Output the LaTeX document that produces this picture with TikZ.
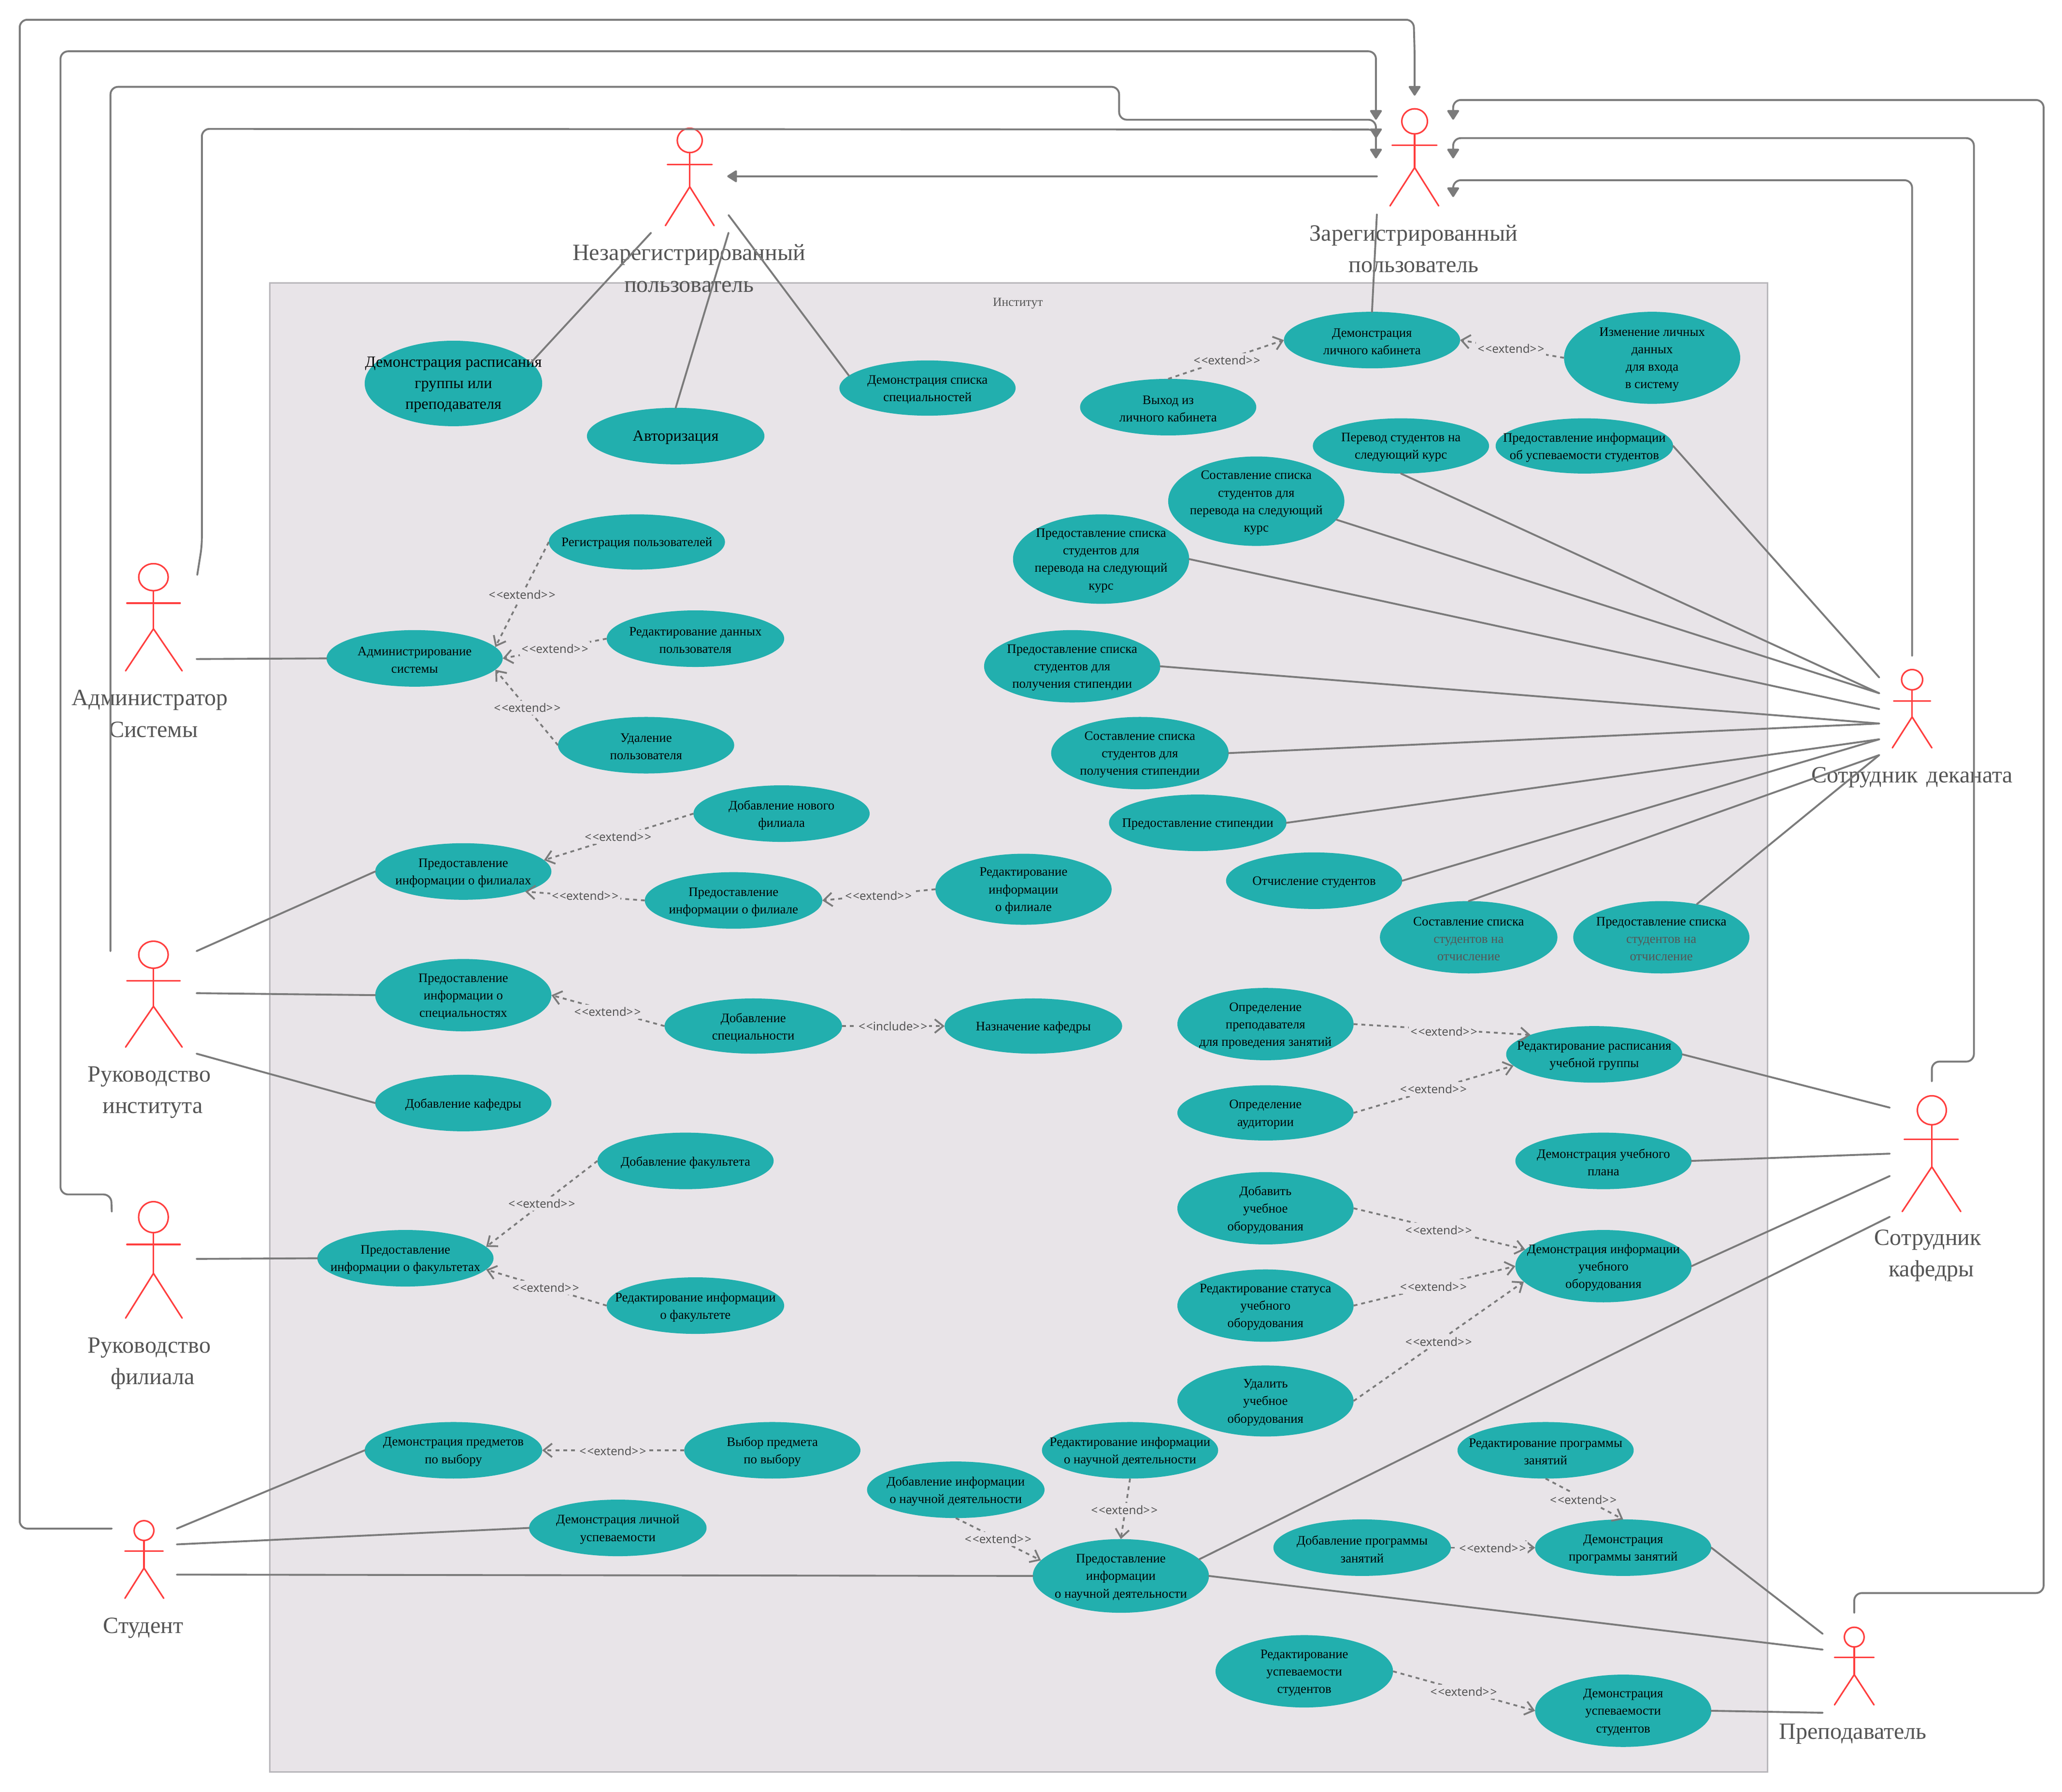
\documentclass[tikz,border=0pt]{standalone}
\usepackage{fontspec}
\setmainfont{Liberation Serif}
\newfontfamily\relfont{Noto Sans}
\usetikzlibrary{shapes.geometric,arrows.meta}
\definecolor{boxfill}{HTML}{E8E4E8}
\definecolor{boxedge}{HTML}{B8B6BA}
\definecolor{ucfill}{HTML}{22AFAE}
\definecolor{actorred}{HTML}{FF3E3E}
\definecolor{linegray}{HTML}{7B7B7B}
\definecolor{labelgray}{HTML}{555555}
\tikzset{
  ucshape/.style={shape=ellipse,fill=ucfill,inner sep=0pt,outer sep=0pt},
  uctext/.style={align=center,inner sep=0pt,text=black,yshift=-0.9pt,font=\fontsize{7.62}{10.3}\selectfont},
  ucbig/.style={align=center,inner sep=0pt,text=black,yshift=-0.8pt,font=\fontsize{9.2}{12.4}\selectfont},
  actorline/.style={draw=actorred,line width=0.9pt,line cap=round},
  actorhead/.style={shape=ellipse,draw=actorred,line width=0.9pt,inner sep=0pt,outer sep=0pt},
  actorlabel/.style={align=center,inner sep=0pt,text=labelgray,font=\fontsize{13.7}{18.6}\selectfont},
  assoc/.style={draw=linegray,line width=1.1pt,line cap=round},
  flow/.style={draw=linegray,line width=1.1pt,rounded corners=4.5pt,line cap=round,-{Triangle[length=6.2pt,width=7.6pt,round]}},
  dep/.style={draw=linegray,line width=1.05pt,dash pattern=on 2.3pt off 2.3pt,-{Straight Barb[length=5pt,width=8pt]}},
  deplabel/.style={fill=boxfill,inner xsep=1pt,inner ysep=1.5pt,text=labelgray,font=\relfont\fontsize{6.9}{8}\selectfont}
}
% ellipse: name, x1, x2, y1, y2, text
\newcommand{\uc}[7][uctext]{%
  \node[ucshape,minimum width={(#4-#3)*0.77446pt},minimum height={(#6-#5)*0.77446pt}] (#2) at ({(#3+#4)/2+0.3},{(#5+#6)/2}) {};
  \node[#1] (#2T) at (#2) {#7};
}
% actor: name, cx, headL, headR, headTop, headBot, armY, armL, armR, hipY, feetY, footL, footR
\newcommand{\actorfig}[9]{%
  \node[actorhead,minimum width={(#4-#3)*0.77446pt},minimum height={(#6-#5)*0.77446pt}] (#1) at (#2,{(#5+#6)/2}) {};
  \def\actn{#1}\def\actx{#2}\def\acta{#7}\def\actal{#8}\def\actar{#9}\actorfigb}
\newcommand{\actorfigb}[4]{%
  \coordinate (\actn hip) at (\actx,#1);
  \draw[actorline] (\actn.south) -- (\actn hip);
  \draw[actorline] (\actal,\acta) -- (\actar,\acta);
  \draw[actorline] (#3,#2) -- (\actn hip) -- (#4,#2);
}
% dependency: from, to, label name, x, y, text
\newcommand{\rel}[6][extend]{%
  \draw[dep] (#2) -- (#3);
  \node[deplabel] (#4) at (#5,#6) {{<}\kern0.6pt{<}#1{>}\kern0.6pt{>}};
}
\begin{document}
\begin{tikzpicture}[x=0.027219cm,y=-0.027219cm]
\useasboundingbox (0,0) rectangle (1568,1361.9);
\node[draw=boxedge,fill=boxfill,line width=0.9pt,minimum width={1139*0.77446pt},minimum height={1132*0.77446pt},inner sep=0pt,outer sep=0pt] (inst) at (774.5,781) {};
\node[inner sep=0pt,text=labelgray,font=\fontsize{7.3}{9}\selectfont] (instT) at (774,230.5) {Институт};

% use cases
\uc[ucbig]{drs}{277}{412}{259}{324}{Демонстрация расписания\\группы или\\преподавателя}
\uc[ucbig]{avt}{446}{581}{310}{353}{Авторизация}
\uc{dsl}{638}{772}{274}{316}{Демонстрация списка\\специальностей}
\uc{reg}{417}{551}{391}{433}{Регистрация пользователей}
\uc{adm}{248}{382}{479}{522}{Администрирование\\системы}
\uc{redd}{461}{596}{464}{507}{Редактирование данных\\пользователя}
\uc{udal}{424}{558}{545}{588}{Удаление\\пользователя}
\uc{dobf}{527}{661}{597}{640}{Добавление нового\\филиала}
\uc{predf}{285}{419}{641}{684}{Предоставление\\информации о филиалах}
\uc{predfl}{490}{625}{663}{706}{Предоставление\\информации о филиале}
\uc{redfl}{711}{845}{649}{703}{Редактирование\\информации\\о филиале}
\uc{psp}{285}{419}{729}{784}{Предоставление\\информации о\\специальностях}
\uc{dsp}{505}{640}{759}{801}{Добавление\\специальности}
\uc{nk}{718}{853}{759}{801}{Назначение кафедры}
\uc{dk}{285}{419}{817}{860}{Добавление кафедры}
\uc{dfk}{454}{588}{861}{904}{Добавление факультета}
\uc{pfk}{241}{375}{935}{978}{Предоставление\\информации о факультетах}
\uc{rfk}{461}{596}{971}{1014}{Редактирование информации\\о факультете}
\uc{dpv}{277}{412}{1081}{1124}{Демонстрация предметов\\по выбору}
\uc{vyb}{520}{654}{1081}{1124}{Выбор предмета\\по выбору}
\uc{dul}{402}{537}{1140}{1183}{Демонстрация личной\\успеваемости}
\uc{dind}{659}{794}{1111}{1154}{Добавление информации\\о научной деятельности}
\uc{rind}{792}{926}{1081}{1124}{Редактирование информации\\о научной деятельности}
\uc{pnd}{785}{919}{1170}{1226}{Предоставление\\информации\\о научной деятельности}
\uc{rus}{924}{1059}{1243}{1298}{Редактирование\\успеваемости\\студентов}
\uc{dus}{1167}{1301}{1273}{1328}{Демонстрация\\успеваемости\\студентов}
\uc{dpz}{968}{1103}{1155}{1198}{Добавление программы\\занятий}
\uc{dmz}{1167}{1301}{1155}{1198}{Демонстрация\\программы занятий}
\uc{rpz}{1108}{1242}{1081}{1124}{Редактирование программы\\занятий}
\uc{udl}{895}{1029}{1038}{1092}{Удалить\\учебное\\оборудования}
\uc{rst}{895}{1029}{965}{1020}{Редактирование статуса\\учебного\\оборудования}
\uc{dbv}{895}{1029}{891}{946}{Добавить\\учебное\\оборудования}
\uc{dio}{1152}{1286}{935}{990}{Демонстрация информации\\учебного\\оборудования}
\uc{duo}{1152}{1286}{861}{904}{Демонстрация учебного\\плана}
\uc{oau}{895}{1029}{825}{867}{Определение\\аудитории}
\uc{opp}{895}{1029}{751}{806}{Определение\\преподавателя\\для проведения занятий}
\uc{rr}{1145}{1279}{780}{823}{Редактирование расписания\\учебной группы}
\uc{sso}{1049}{1184}{685}{740}{Составление списка\\{\color{labelgray}студентов на}\\{\color{labelgray}отчисление}}
\uc{pso}{1196}{1330}{685}{740}{Предоставление списка\\{\color{labelgray}студентов на}\\{\color{labelgray}отчисление}}
\uc{och}{932}{1066}{648}{691}{Отчисление студентов}
\uc{pst}{843}{978}{604}{647}{Предоставление стипендии}
\uc{ss3}{799}{934}{545}{600}{Составление списка\\студентов для\\получения стипендии}
\uc{ps3}{748}{882}{479}{534}{Предоставление списка\\студентов для\\получения стипендии}
\uc{ps2}{770}{904}{391}{459}{Предоставление списка\\студентов для\\перевода на следующий\\курс}
\uc{ss}{888}{1022}{347}{415}{Составление списка\\студентов для\\перевода на следующий\\курс}
\uc{ps}{998}{1132}{318}{360}{Перевод студентов на\\следующий курс}
\uc{pi}{1137}{1272}{318}{360}{Предоставление информации\\об успеваемости студентов}
\uc{dlk}{976}{1110}{237}{280}{Демонстрация\\личного кабинета}
\uc{vyh}{821}{955}{288}{331}{Выход из\\личного кабинета}
\uc{izm}{1189}{1323}{237}{307}{Изменение личных\\данных\\для входа\\в систему}

% actor figures
\actorfig{nez}{524.5}{515}{534}{97.5}{116}{125}{507.5}{541.5}{142}{171.5}{506}{543}
\actorfig{zar}{1075.7}{1066}{1085.5}{82.7}{101.8}{110.5}{1058.6}{1092.6}{127.4}{156.5}{1057}{1094}
\actorfig{adn}{116.7}{105.6}{128}{428.5}{449}{458.5}{96.5}{137}{478}{510}{95.5}{138.5}
\actorfig{ruk}{116.7}{105.6}{128}{715.5}{736}{745.5}{96.5}{137}{765}{796}{95.5}{138.5}
\actorfig{ruf}{116.7}{105.5}{128}{913.5}{937}{946}{96.5}{137}{968}{1002}{95.5}{138.5}
\actorfig{stu}{109.5}{102}{117}{1156}{1171}{1179}{95}{124}{1192}{1215}{95}{124.5}
\actorfig{pre}{1410}{1402.5}{1417.5}{1237}{1252}{1260}{1395}{1425}{1273}{1296}{1395}{1425}
\actorfig{kaf}{1469}{1458}{1480}{833}{855}{866}{1448}{1489}{887}{921}{1446.5}{1491}
\actorfig{dek}{1454}{1446}{1462}{509}{524.4}{533}{1440}{1468}{545}{568.5}{1439}{1469}

% actor labels
\node[actorlabel] (nezL) at (524,204) {Незарегистрированный\\пользователь};
\node[actorlabel] (zarL) at (1075,189) {Зарегистрированный\\пользователь};
\node[actorlabel] (adnL) at (114,542.5) {Администратор\\\hspace*{4pt}Системы};
\node[actorlabel] (rukL) at (113.5,830.5) {Руководство\\\hspace*{4pt}института};
\node[actorlabel] (rufL) at (113.5,1036.5) {Руководство\\\hspace*{4pt}филиала};
\node[actorlabel] (stuL) at (109,1237.5) {Студент};
\node[actorlabel] (preL) at (1409,1318) {Преподаватель};
\node[actorlabel] (kafL) at (1466,954.5) {Сотрудник\\\hspace*{4pt}кафедры};
\node[actorlabel] (dekL) at (1454,591) {Сотрудник\hspace{1.5pt} деканата};

% free connector ends
\coordinate (stuOut) at (85,1162);
\coordinate (rufOut) at (85,921);
\coordinate (rukOut) at (84,723);
\coordinate (adnOut) at (150,437);
\coordinate (zarTop) at (1075.7,72.7);
\coordinate (zarL1) at (1046.3,91);
\coordinate (zarL2) at (1046.3,105);
\coordinate (zarL3) at (1046.3,120.4);
\coordinate (zarR1) at (1105,91);
\coordinate (zarR2) at (1105,120.4);
\coordinate (zarR3) at (1105,149.8);
\coordinate (preOut) at (1410,1226);
\coordinate (kafOut) at (1469,822);
\coordinate (dekOut) at (1454,498.5);
\coordinate (zarOut) at (1047,134);
\coordinate (nezIn) at (553,134);
\coordinate (zarDown) at (1047,163);
\coordinate (nezA) at (495,177);
\coordinate (nezB) at (554,177);
\coordinate (nezC) at (554,163.5);
\coordinate (adnR) at (149.5,501);
\coordinate (rukA) at (149.5,723);
\coordinate (rukB) at (149.5,755);
\coordinate (rukC) at (149.5,801);
\coordinate (rufR) at (149.5,957);
\coordinate (stuA) at (134.5,1162);
\coordinate (stuB) at (134.5,1174);
\coordinate (stuC) at (134.5,1197);
\coordinate (kafA) at (1437,842);
\coordinate (kafB) at (1437,877);
\coordinate (kafC) at (1437,894);
\coordinate (kafD) at (1437,925);
\coordinate (preA) at (1386,1242);
\coordinate (preB) at (1386,1254);
\coordinate (preC) at (1386,1302);
\coordinate (dekA) at (1429,515);
\coordinate (dekB) at (1429,527);
\coordinate (dekC) at (1429,539);
\coordinate (dekD) at (1429,550);
\coordinate (dekE) at (1429,562);
\coordinate (dekF) at (1429,574);

% routed arrows into the registered user
\draw[flow] (stuOut) -- (15,1162) -- (15,15) -- (1075,15) -- (1075.7,40) -- (zarTop);
\draw[flow] (rufOut) -- (84.5,908) -- (46,908) -- (46,39) -- (1046.3,39) -- (zarL1);
\draw[flow] (rukOut) -- (84,66) -- (851,66) -- (851,91) -- (1046.3,91) -- (zarL3);
\draw[flow] (adnOut) -- (153.5,415) -- (153.5,98) -- (1046.3,98.5) -- (zarL2);
\draw[flow] (preOut) -- (1410,1211) -- (1554,1211) -- (1554,76) -- (1105,76) -- (zarR1);
\draw[flow] (kafOut) -- (1469,807) -- (1501,807) -- (1501,105) -- (1105,105) -- (zarR2);
\draw[flow] (dekOut) -- (1454,137) -- (1105,137) -- (zarR3);
\draw[flow] (zarOut) -- (nezIn);

% associations
\draw[assoc] (zarDown) -- (dlk.north);
\draw[assoc] (nezA) -- (drs.15);
\draw[assoc] (nezB) -- (avt.north);
\draw[assoc] (nezC) -- (dsl.171);
\draw[assoc] (adnR) -- (adm.west);
\draw[assoc] (rukA) -- (predf.west);
\draw[assoc] (rukB) -- (psp.west);
\draw[assoc] (rukC) -- (dk.west);
\draw[assoc] (rufR) -- (pfk.west);
\draw[assoc] (stuA) -- (dpv.west);
\draw[assoc] (stuB) -- (dul.west);
\draw[assoc] (stuC) -- (pnd.west);
\draw[assoc] (kafA) -- (rr.east);
\draw[assoc] (kafB) -- (duo.east);
\draw[assoc] (kafC) -- (dio.east);
\draw[assoc] (kafD) -- (pnd.12);
\draw[assoc] (preA) -- (dmz.east);
\draw[assoc] (preB) -- (pnd.east);
\draw[assoc] (preC) -- (dus.east);
\draw[assoc] (dekA) -- (pi.east);
\draw[assoc] (dekB) -- (ps.south);
\draw[assoc] (dekB) -- (ss.-13);
\draw[assoc] (dekC) -- (ps2.east);
\draw[assoc] (dekD) -- (ps3.east);
\draw[assoc] (dekD) -- (ss3.east);
\draw[assoc] (dekE) -- (pst.east);
\draw[assoc] (dekE) -- (och.east);
\draw[assoc] (dekF) -- (sso.north);
\draw[assoc] (dekF) -- (pso.43);

% dependencies
\rel{reg.west}{adm.8}{l1}{397}{452}
\rel{redd.west}{adm.east}{l2}{422}{493}
\rel{udal.west}{adm.-8}{l3}{401}{538}
\rel{dobf.west}{predf.8}{l4}{470}{636}
\rel{predfl.west}{predf.-18}{l5}{445}{681}
\rel{redfl.west}{predfl.east}{l6}{668}{681}
\rel{dsp.west}{psp.east}{l7}{462}{769}
\rel[include]{dsp.east}{nk.west}{l8}{679}{780}
\rel{dfk.west}{pfk.8}{l9}{412}{915}
\rel{rfk.west}{pfk.-8}{l10}{415}{979}
\rel{vyb.west}{dpv.east}{l11}{466}{1103}
\rel{dind.south}{pnd.169}{l12}{759}{1170}
\rel{rind.south}{pnd.north}{l13}{855}{1148}
\rel{dpz.east}{dmz.west}{l14}{1135}{1177}
\rel{rpz.south}{dmz.north}{l15}{1204}{1140}
\rel{rus.east}{dus.west}{l16}{1113}{1286}
\rel{udl.east}{dio.191}{l17}{1094}{1020}
\rel{rst.east}{dio.west}{l18}{1090}{978}
\rel{dbv.east}{dio.168}{l19}{1094}{935}
\rel{opp.east}{rr.163}{l20}{1098}{784}
\rel{oau.east}{rr.188}{l21}{1090}{828}
\rel{vyh.north}{dlk.west}{l22}{933}{274}
\rel{izm.west}{dlk.east}{l23}{1149}{265}
\end{tikzpicture}
\end{document}
